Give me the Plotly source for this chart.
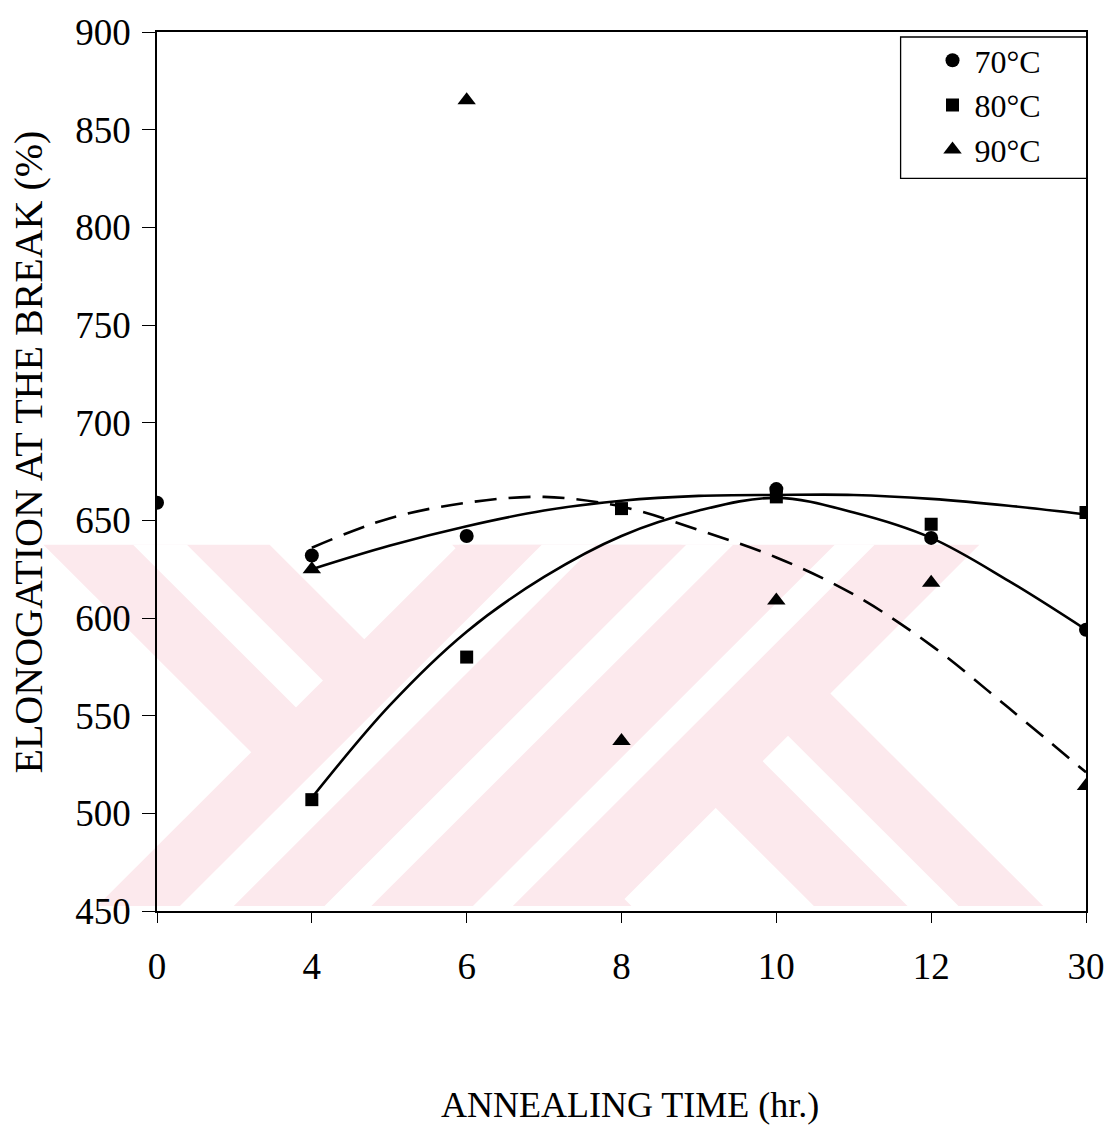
import plotly.graph_objects as go

# Annealing time categories (hr.), drawn at evenly spaced positions
time_labels = ["0", "4", "6", "8", "10", "12", "30"]
time_pos = [0, 1, 2, 3, 4, 5, 6]

# Measured elongation at break (%) for each annealing temperature
pos_70 = [0, 1, 2, 4, 5, 6]
elong_70 = [659, 632, 642, 666, 641, 594]
pos_80 = [1, 2, 3, 4, 5, 6]
elong_80 = [507, 580, 656, 662, 648, 654]
pos_90 = [1, 2, 3, 4, 5, 6]
elong_90 = [625, 865, 537, 609, 618, 514]

# Fitted trend curves, sampled at half-step positions
fit_pos = [1, 1.5, 2, 2.5, 3, 3.5, 4, 4.5, 5, 5.5, 6]
fit_a = [625, 637, 647, 655, 660, 662.5, 663, 663, 661, 657.5, 653]
fit_b = [508, 555, 593, 621, 642, 655, 661.5, 654, 641, 619, 594]
fit_c = [636, 651, 659, 662, 657, 645, 631, 612, 586, 554, 521]

FONT = "Liberation Serif, Times New Roman, serif"
W, H = 1117, 1129
L, R, T, B = 157, 28, 28, 218
PW, PH = W - L - R, H - T - B

fig = go.Figure()


def px_x(x):
    return (x - L) / PW


def px_y(y):
    return (T + PH - y) / PH


# Background watermark: crossed diagonal bands (pixel geometry).
# "\" bands are laid first, the "/" layer with its white gaps goes on top.
band_top, band_bot = 543, 906
back_arms = [((273, 500), (356, 410)), ((-140, 90), (-55, -4))]   # y - x
fwd_span = (1003, 1525)                                             # x + y
fwd_gaps = [(1086, 1140), (1231, 1278), (1380, 1420)]


def clip(poly, a, b, c):
    out = []
    n = len(poly)
    for i in range(n):
        p, q = poly[i], poly[(i + 1) % n]
        fp = a * p[0] + b * p[1] - c
        fq = a * q[0] + b * q[1] - c
        if fp <= 0:
            out.append(p)
        if fp * fq < 0:
            t = fp / (fp - fq)
            out.append((p[0] + t * (q[0] - p[0]), p[1] + t * (q[1] - p[1])))
    return out


rect = [(0, band_top), (W, band_top), (W, band_bot), (0, band_bot)]


def strip(lo, hi, fwd):
    if fwd:
        return clip(clip(rect, 1, 1, hi), -1, -1, -lo)
    return clip(clip(rect, -1, 1, hi), 1, -1, -lo)


def add_poly(poly, color):
    if len(poly) < 3:
        return
    path = "M " + " L ".join(f"{px_x(x):.4f},{px_y(y):.4f}" for x, y in poly) + " Z"
    fig.add_shape(type="path", path=path, xref="paper", yref="paper",
                  fillcolor=color, line=dict(width=0), layer="below")


PINK = "#fce9ed"
for (lo, hi), (glo, ghi) in back_arms:
    add_poly(strip(lo, hi, False), PINK)
    add_poly(strip(glo, ghi, False), "white")
add_poly(strip(*fwd_span, True), PINK)
for glo, ghi in fwd_gaps:
    add_poly(strip(glo, ghi, True), "white")

# Legend frame
fig.add_shape(type="rect", xref="paper", yref="paper",
              x0=px_x(903), x1=px_x(1090), y0=px_y(175), y1=px_y(33),
              fillcolor="white", line=dict(color="black", width=1.3), layer="below")

# Trend curves
for ys, dash in [(fit_a, "solid"), (fit_b, "solid"), (fit_c, "22px,12px")]:
    fig.add_trace(go.Scatter(
        x=fit_pos, y=ys, mode="lines", showlegend=False, hoverinfo="skip",
        line=dict(color="black", width=2.6, dash=dash, shape="spline", smoothing=1.0),
    ))

# Measured points
fig.add_trace(go.Scatter(x=pos_70, y=elong_70, mode="markers", name="70°C",
                         marker=dict(symbol="circle", size=14, color="black")))
fig.add_trace(go.Scatter(x=pos_80, y=elong_80, mode="markers", name="80°C",
                         marker=dict(symbol="square", size=13, color="black")))
fig.add_trace(go.Scatter(x=pos_90, y=elong_90, mode="markers", name="90°C",
                         marker=dict(symbol="triangle-up", size=16, color="black")))

axis_common = dict(showgrid=False, zeroline=False, linecolor="black", linewidth=1.5,
                   tickcolor="black", tickwidth=1.3,
                   tickfont=dict(family=FONT, size=37, color="black"))

fig.update_layout(
    width=W, height=H,
    margin=dict(l=L, r=R, t=T, b=B, pad=0),
    paper_bgcolor="white", plot_bgcolor="white",
    font=dict(family=FONT, color="black"),
    xaxis=dict(range=[0, 6], tickmode="array", tickvals=time_pos, ticktext=time_labels,
               showline=True, mirror=True, ticks="outside", ticklen=10,
               ticklabelstandoff=12, **axis_common),
    yaxis=dict(range=[450, 900], tickmode="array", tickvals=list(range(450, 901, 50)),
               showline=True, mirror=True, ticks="outside", ticklen=13,
               ticklabelstandoff=4, **axis_common),
    xaxis2=dict(overlaying="x", anchor="y", side="bottom", range=[0, 6],
                tickmode="array", tickvals=time_pos, ticks="inside", ticklen=10,
                showticklabels=False, showline=False, showgrid=False, zeroline=False,
                tickcolor="black", tickwidth=1.3),
    yaxis2=dict(overlaying="y", anchor="x", side="left", range=[450, 900],
                tickmode="array", tickvals=list(range(450, 901, 50)), ticks="inside",
                ticklen=10, showticklabels=False, showline=False, showgrid=False,
                zeroline=False, tickcolor="black", tickwidth=1.3),
    legend=dict(x=px_x(933), y=px_y(29), xanchor="left", yanchor="top",
                bgcolor="rgba(0,0,0,0)", borderwidth=0,
                font=dict(family=FONT, size=32, color="black"),
                itemwidth=34, tracegroupgap=0),
    annotations=[
        dict(text="ELONOGATION AT THE BREAK (%)", textangle=-90, showarrow=False,
             xref="paper", yref="paper", x=px_x(28), y=px_y(450),
             xanchor="center", yanchor="middle",
             font=dict(family=FONT, size=40, color="black")),
        dict(text="ANNEALING TIME (hr.)", showarrow=False,
             xref="paper", yref="paper", x=px_x(632), y=px_y(1106),
             xanchor="center", yanchor="middle",
             font=dict(family=FONT, size=36, color="black")),
    ],
)

fig.write_html("out.html")
